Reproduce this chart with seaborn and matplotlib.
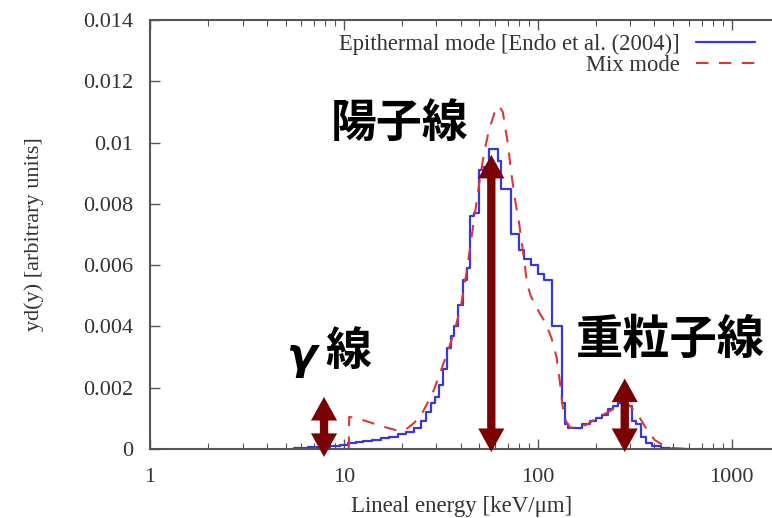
import numpy as np
import pandas as pd
import matplotlib
matplotlib.use("Agg")
import matplotlib.pyplot as plt
import seaborn as sns
from matplotlib.ticker import FixedLocator, FuncFormatter, LogLocator, NullFormatter

# ---- data ----
blue_x = [5.5, 6.5, 7.5, 8.5, 9.5, 10.5, 11.5, 12.5, 14, 15.5, 17, 19, 21, 23, 25, 26.5,
          28, 29.5, 31, 32.5, 34, 35.5, 37, 39, 41, 43, 44.5, 47, 50, 53, 56, 62, 65, 70,
          73, 80, 85, 92, 100, 108, 119, 133, 138, 143, 155, 170, 185, 200, 215, 230, 245,
          260, 275, 290, 305, 320, 340, 360, 390, 430, 480, 600]
blue_y = [0.00003, 0.00005, 0.00008, 0.0001, 0.00014, 0.00018, 0.00022, 0.00026, 0.0003,
          0.00036, 0.0004, 0.00048, 0.00056, 0.00068, 0.0009, 0.0012, 0.0015, 0.0017,
          0.0021, 0.0026, 0.0033, 0.0037, 0.0040, 0.0047, 0.0055, 0.0059, 0.0076, 0.0077,
          0.0091, 0.0092, 0.0098, 0.0094, 0.0085, 0.0085, 0.0070, 0.0065, 0.0062, 0.0060,
          0.0057, 0.0055, 0.0040, 0.0015, 0.0008, 0.0007, 0.0007, 0.0008, 0.0009, 0.0010,
          0.0011, 0.0013, 0.0014, 0.0015, 0.0016, 0.0014, 0.0009, 0.0008, 0.0004, 0.0002,
          0.0001, 0.00003, 0.0, 0.0]

red_x = [10.6, 10.65, 12, 13.5, 15, 17, 19, 21, 23, 25, 27, 29, 31, 34, 37, 40, 43, 46, 50,
         53, 56, 60, 63, 66, 70, 73, 77, 80, 85, 88, 92, 97, 103, 110, 118, 125, 130, 135,
         140, 147, 160, 180, 200, 230, 260, 285, 300, 330, 360, 400, 450, 500, 600, 1000]
red_y = [0.0, 0.00105, 0.00098, 0.00088, 0.00078, 0.00068, 0.0006, 0.00065, 0.00085, 0.0011,
         0.0015, 0.0019, 0.0024, 0.0031, 0.0038, 0.0046, 0.0058, 0.0071, 0.0087, 0.0097,
         0.0104, 0.0110, 0.0112, 0.0110, 0.0100, 0.0090, 0.0080, 0.0074, 0.0062, 0.0054,
         0.0050, 0.0047, 0.0044, 0.0041, 0.0036, 0.0030, 0.0022, 0.0013, 0.0009, 0.0007,
         0.0007, 0.0008, 0.0010, 0.0012, 0.0014, 0.0015, 0.0014, 0.0011, 0.0007, 0.0003,
         0.0001, 0.00003, 0.0, 0.0]

series_labels = ["Epithermal mode [Endo et al. (2004)]", "Mix mode"]
x_ticks = [1, 10, 100, 1000]
y_ticks = [0, 0.002, 0.004, 0.006, 0.008, 0.01, 0.012, 0.014]

# annotation arrows: (x position, y bottom, y top) and labels
arrow_x = [7.9, 57.6, 281]
arrow_lo = [-0.00026, -0.0001, -0.0001]
arrow_hi = [0.0017, 0.0096, 0.0023]
ann_labels = ["γ 線", "陽子線", "重粒子線"]

# ---- plot ----
sns.set_theme(style="ticks")
plt.rcParams["font.family"] = ["Liberation Serif", "DejaVu Serif"]

fig = plt.figure(figsize=(7.72, 5.18), dpi=100)
ax = fig.add_axes([150 / 772, 1 - 449 / 518, 1 - 150 / 772 + 0.001, (449 - 20) / 518])

df_b = pd.DataFrame({"x": blue_x, "y": blue_y})
df_r = pd.DataFrame({"x": red_x, "y": red_y})
sns.lineplot(data=df_b, x="x", y="y", ax=ax, drawstyle="steps-post", color="#3838d8",
             lw=1.6, estimator=None, label=series_labels[0])
sns.lineplot(data=df_r, x="x", y="y", ax=ax, color="#d8383a", lw=1.5, estimator=None,
             label=series_labels[1])
ax.lines[1].set_dashes([6, 5])

ax.set_xscale("log")
ax.set_xlim(1, 1630)
ax.set_ylim(0, 0.014)
ax.xaxis.set_major_locator(FixedLocator(x_ticks))
ax.xaxis.set_major_formatter(FuncFormatter(lambda v, p: f"{v:g}"))
ax.xaxis.set_minor_locator(LogLocator(base=10, subs=np.arange(2, 10)))
ax.xaxis.set_minor_formatter(NullFormatter())
ax.yaxis.set_major_locator(FixedLocator(y_ticks))
ax.yaxis.set_major_formatter(FuncFormatter(lambda v, p: f"{v:g}"))

ax.tick_params(axis="both", which="major", direction="in", length=7, width=1,
               color="#555555", labelsize=16, labelcolor="#333333", top=True)
ax.tick_params(axis="x", which="minor", direction="in", length=4, width=0.8,
               color="#555555", top=True)
ax.tick_params(axis="x", which="major", pad=14)
ax.tick_params(axis="y", which="major", pad=12)

for side in ["left", "bottom", "top"]:
    ax.spines[side].set_color("#555555")
    ax.spines[side].set_linewidth(1.5)
ax.spines["right"].set_visible(False)

ax.set_xlabel("Lineal energy [keV/μm]", fontsize=16.5, color="#333333", labelpad=6)
ax.set_ylabel("yd(y) [arbitrary units]", fontsize=16, color="#333333", labelpad=28)

leg = ax.legend(loc="upper right", bbox_to_anchor=(0.993, 1.0), frameon=False,
                markerfirst=False, fontsize=16.3, handlelength=2.6, borderaxespad=0.2,
                labelspacing=0.0, handletextpad=0.7)
for t in leg.get_texts():
    t.set_color("#333333")

arrow_color = "#7a0202"
for xa, lo, hi in zip(arrow_x, arrow_lo, arrow_hi):
    # shaft
    ax.annotate("", xy=(xa, hi), xytext=(xa, lo),
                arrowprops=dict(arrowstyle="-", color=arrow_color, lw=6,
                                shrinkA=12, shrinkB=12),
                annotation_clip=False)
    # heads
    ax.annotate("", xy=(xa, hi), xytext=(xa, lo),
                arrowprops=dict(arrowstyle="<|-|>,head_length=0.85,head_width=0.47",
                                color=arrow_color, lw=0, mutation_scale=20,
                                shrinkA=0, shrinkB=0),
                annotation_clip=False)

cjk = ["Noto Sans CJK JP", "DejaVu Sans"]
fig.text(331 / 772, 1 - 124 / 518, ann_labels[1], family=cjk, fontsize=33,
         fontweight="bold", ha="left", va="center", color="black")
fig.text(576 / 772, 1 - 340 / 518, ann_labels[2], family=cjk, fontsize=34,
         fontweight="bold", ha="left", va="center", color="black")
fig.text(286 / 772, 1 - 356 / 518, "γ", family=["DejaVu Sans"], fontsize=32,
         fontweight="bold", style="italic", ha="left", va="center", color="black")
fig.text(325 / 772, 1 - 352 / 518, "線", family=cjk, fontsize=33,
         fontweight="bold", ha="left", va="center", color="black")

fig.savefig("out.png", dpi=100)
